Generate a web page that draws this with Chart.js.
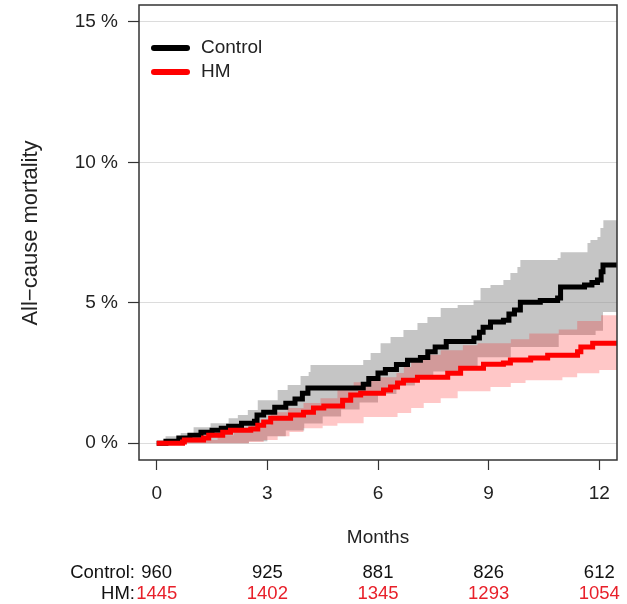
<!DOCTYPE html>
<html>
<head>
<meta charset="utf-8">
<script src="https://cdn.jsdelivr.net/npm/chart.js@4.4.1/dist/chart.umd.min.js"></script>
<style>
  body { margin: 0; background: #fff; }
  #wrap { width: 627px; height: 604px; }
</style>
</head>
<body>
<div id="wrap"><canvas id="myChart"></canvas></div>
<script>
// [month, cumulative mortality %] - step points
var controlCurve = [[0,0],[0.25,0.07],[0.6,0.18],[0.9,0.28],[1.2,0.39],[1.5,0.46],[1.75,0.53],[1.95,0.6],[2.3,0.71],[2.65,0.78],[2.72,1.0],[2.9,1.1],[3.2,1.28],[3.5,1.42],[3.75,1.57],[3.95,1.78],[4.1,1.96],[5.6,2.1],[5.75,2.3],[6.0,2.5],[6.2,2.62],[6.5,2.8],[6.8,2.95],[7.15,3.05],[7.35,3.25],[7.55,3.42],[7.85,3.62],[8.6,3.74],[8.75,3.95],[8.85,4.13],[9.05,4.31],[9.4,4.38],[9.55,4.6],[9.7,4.74],[9.86,5.02],[10.4,5.08],[10.87,5.17],[10.95,5.56],[11.6,5.63],[11.8,5.72],[11.95,5.81],[12.05,6.1],[12.1,6.34],[12.48,6.34]];
var controlUpper = [[0,0],[0.24,0.25],[0.65,0.36],[1.0,0.57],[1.46,0.71],[1.95,0.89],[2.2,1.0],[2.47,1.18],[2.74,1.53],[3.28,1.89],[3.55,2.07],[3.9,2.39],[4.12,2.53],[4.17,2.78],[5.6,2.96],[5.8,3.21],[6.07,3.56],[6.34,3.78],[6.69,4.03],[7.07,4.28],[7.34,4.49],[7.7,4.81],[8.16,4.92],[8.59,5.09],[8.78,5.52],[9.05,5.63],[9.4,5.81],[9.59,6.06],[9.78,6.27],[9.86,6.52],[10.87,6.59],[10.95,6.8],[11.68,7.13],[11.76,7.23],[11.95,7.34],[12.03,7.66],[12.11,7.94],[12.48,7.94]];
var controlLower = [[0,0],[2.5,0.07],[3.0,0.25],[3.5,0.45],[4.0,0.7],[4.5,0.95],[5.0,1.2],[5.5,1.45],[6.0,1.75],[6.5,2.05],[7.0,2.3],[7.5,2.55],[8.2,2.71],[8.7,3.06],[9.6,3.42],[10.9,3.85],[11.9,4.0],[12.1,4.67],[12.48,4.67]];

var hmCurve = [[0,0],[0.7,0.04],[0.75,0.11],[1.27,0.18],[1.41,0.28],[1.79,0.39],[2.0,0.46],[2.55,0.5],[2.74,0.64],[2.9,0.75],[3.09,0.89],[3.63,1.0],[3.98,1.1],[4.25,1.25],[4.53,1.32],[5.04,1.53],[5.26,1.71],[5.53,1.78],[6.15,1.89],[6.34,2.0],[6.53,2.14],[6.69,2.24],[7.07,2.35],[7.89,2.49],[8.24,2.67],[8.86,2.81],[9.4,2.85],[9.59,2.96],[10.14,3.03],[10.6,3.13],[11.41,3.25],[11.5,3.42],[11.82,3.56],[12.48,3.56]];
var hmUpper = [[0,0],[0.3,0.04],[0.92,0.11],[1.65,0.28],[2.09,0.46],[2.55,0.64],[3.09,1.1],[3.55,1.25],[3.98,1.43],[4.44,1.6],[4.9,1.89],[5.34,2.17],[5.8,2.35],[6.5,2.5],[6.7,2.71],[6.9,2.96],[7.3,3.15],[7.7,3.31],[8.3,3.49],[8.7,3.56],[9.6,3.7],[10.1,3.9],[10.9,4.05],[11.4,4.35],[12.05,4.55],[12.48,4.55]];
var hmLower = [[0,0],[2.5,0.04],[2.9,0.11],[3.28,0.25],[3.6,0.4],[3.98,0.53],[4.5,0.62],[4.9,0.71],[5.61,0.93],[6.53,1.07],[6.9,1.25],[7.24,1.43],[7.7,1.6],[8.16,1.85],[9.05,2.0],[9.6,2.14],[10.0,2.24],[11.0,2.35],[11.4,2.49],[12.0,2.6],[12.48,2.6]];

// axis ticks and numbers at risk
var monthTicks = [0, 3, 6, 9, 12];
var pctTicks = [0, 5, 10, 15];
var atRiskControl = [960, 925, 881, 826, 612];
var atRiskHM = [1445, 1402, 1345, 1293, 1054];

function pts(arr) {
    return arr.map(function(p) { return {x: p[0], y: p[1]}; });
}

function band(data, col, fillTo, ord) {
    return {
        data: pts(data),
        stepped: true,
        borderWidth: 0,
        pointRadius: 0,
        backgroundColor: col,
        fill: fillTo,
        order: ord
    };
}

const FONT = 'Arial, "Liberation Sans", sans-serif';

// box, legend, axis titles and the risk table
const extras = {
    id: 'extras',
    afterDraw: function(chart) {
        const ctx = chart.ctx;
        const a = chart.chartArea;
        const xs = chart.scales.x;
        ctx.save();
        ctx.strokeStyle = '#333';
        ctx.lineWidth = 1.5;
        ctx.strokeRect(a.left, a.top, a.right - a.left, a.bottom - a.top);

        // legend
        ctx.lineWidth = 6;
        ctx.lineCap = 'round';
        ctx.strokeStyle = '#000';
        ctx.beginPath(); ctx.moveTo(154, 48); ctx.lineTo(187, 48); ctx.stroke();
        ctx.strokeStyle = '#ff0000';
        ctx.beginPath(); ctx.moveTo(154, 72); ctx.lineTo(187, 72); ctx.stroke();
        ctx.font = '19px ' + FONT;
        ctx.fillStyle = '#222';
        ctx.textAlign = 'left';
        ctx.textBaseline = 'middle';
        ctx.fillText('Control', 201, 48);
        ctx.fillText('HM', 201, 72);

        // y title
        ctx.save();
        ctx.translate(31, 233);
        ctx.rotate(-Math.PI / 2);
        ctx.textAlign = 'center';
        ctx.font = '22px ' + FONT;
        ctx.fillText('All\u2212cause mortality', 0, 0);
        ctx.restore();

        // x title
        ctx.textAlign = 'center';
        ctx.font = '19px ' + FONT;
        ctx.fillText('Months', xs.getPixelForValue(6), 538);

        // numbers at risk
        ctx.font = '18.5px ' + FONT;
        ctx.textAlign = 'right';
        ctx.fillStyle = '#111';
        ctx.fillText('Control:', 135, 573);
        ctx.fillText('HM:', 135, 594);
        ctx.textAlign = 'center';
        for (var i = 0; i < monthTicks.length; i++) {
            var px = xs.getPixelForValue(monthTicks[i]);
            ctx.fillStyle = '#111';
            ctx.fillText(String(atRiskControl[i]), px, 573);
            ctx.fillStyle = '#e8202a';
            ctx.fillText(String(atRiskHM[i]), px, 594);
        }
        ctx.restore();
    }
};

const config = {
    type: 'line',
    data: {
        datasets: [
            band(controlUpper, 'rgba(150,150,150,0.55)', '+1', 4),
            band(controlLower, 'rgba(0,0,0,0)', false, 4),
            band(hmUpper, 'rgba(255,0,0,0.22)', '+1', 3),
            band(hmLower, 'rgba(0,0,0,0)', false, 3),
            {
                label: 'Control',
                data: pts(controlCurve),
                stepped: true,
                borderColor: '#000',
                borderWidth: 5,
                pointRadius: 0,
                fill: false,
                order: 2
            },
            {
                label: 'HM',
                data: pts(hmCurve),
                stepped: true,
                borderColor: '#ff0000',
                borderWidth: 5,
                pointRadius: 0,
                fill: false,
                order: 1
            }
        ]
    },
    options: {
        animation: false,
        responsive: true,
        maintainAspectRatio: false,
        layout: { padding: { top: 5, right: 10, left: 0, bottom: 0 } },
        plugins: {
            legend: { display: false },
            tooltip: { enabled: false }
        },
        scales: {
            x: {
                type: 'linear',
                min: -0.48,
                max: 12.48,
                afterBuildTicks: function(s) { s.ticks = monthTicks.map(function(v) { return {value: v}; }); },
                afterFit: function(s) { s.height = 144; s.paddingLeft = 0; s.paddingRight = 0; },
                grid: { drawOnChartArea: false, tickColor: '#333', tickLength: 10, tickWidth: 1.2 },
                border: { display: false },
                ticks: { color: '#222', padding: 12, font: { size: 19, family: FONT } }
            },
            y: {
                min: -0.6,
                max: 15.6,
                afterBuildTicks: function(s) { s.ticks = pctTicks.map(function(v) { return {value: v}; }); },
                afterFit: function(s) { s.width = 139; s.paddingTop = 0; s.paddingBottom = 0; },
                grid: { color: '#dcdcdc', tickColor: '#333', tickLength: 11, tickWidth: 1.2 },
                border: { display: false },
                ticks: {
                    color: '#222',
                    padding: 10,
                    font: { size: 19, family: FONT },
                    callback: function(v) { return v + ' %'; }
                }
            }
        }
    },
    plugins: [extras]
};

var myChart = new Chart(document.getElementById('myChart'), config);
</script>
</body>
</html>
